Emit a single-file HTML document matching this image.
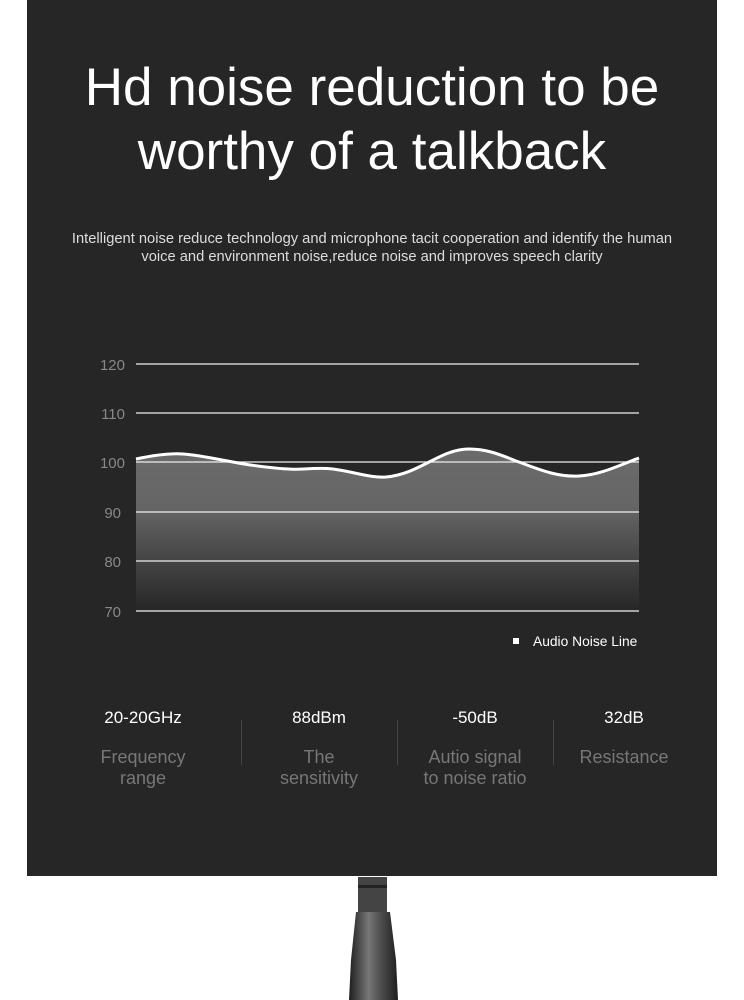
<!DOCTYPE html>
<html><head><meta charset="utf-8"><style>
body{margin:0;width:744px;height:1000px;background:#fff;position:relative;overflow:hidden;font-family:"Liberation Sans",sans-serif}
.panel{position:absolute;left:27px;top:0;width:690px;height:876px;background:#262626}
.t{position:absolute;left:0;width:744px;text-align:center;color:#fff}
.v{position:absolute;width:150px;text-align:center;color:#fff;font-size:17px;top:708px}
.l{position:absolute;width:150px;text-align:center;color:#777;font-size:18px;top:747px;line-height:21px}
.d{position:absolute;top:720px;width:1px;height:45px;background:#444}
</style></head><body>
<div class="panel"></div>
<div class="t" style="top:56px;font-size:53px;line-height:64px">Hd noise reduction to be<br>worthy of a talkback</div>
<div class="t" style="top:230px;font-size:14.7px;line-height:18px;color:#ddd">Intelligent noise reduce technology and microphone tacit cooperation and identify the human<br>voice and environment noise,reduce noise and improves speech clarity</div>
<svg style="position:absolute;left:0;top:0" width="744" height="1000">
<defs><linearGradient id="g" x1="0" y1="0" x2="0" y2="1"><stop offset="0" stop-color="#6b6b6b"/><stop offset="0.35" stop-color="#666"/><stop offset="1" stop-color="#262626"/></linearGradient>
<linearGradient id="a" x1="0" y1="0" x2="1" y2="0"><stop offset="0" stop-color="#1e1e1e"/><stop offset="0.4" stop-color="#777"/><stop offset="0.6" stop-color="#555"/><stop offset="1" stop-color="#1e1e1e"/></linearGradient></defs>
<path d="M136 459 C155 455 170 453 183 454 C200 455 220 460 244 464 C270 468 290 470 304 469 C318 468 325 468 333 469 C355 472 370 478 386 477 C420 474 440 449 469 449 C490 449 505 457 519 462 C545 472 560 477 579 476 C600 475 620 465 639 458 L639 611 L136 611 Z" fill="url(#g)"/>
<g stroke="#eee" stroke-width="1.3">
<line x1="136" y1="364" x2="639" y2="364"/><line x1="136" y1="413" x2="639" y2="413"/><line x1="136" y1="462" x2="639" y2="462"/><line x1="136" y1="512" x2="639" y2="512"/><line x1="136" y1="561" x2="639" y2="561"/><line x1="136" y1="611" x2="639" y2="611"/></g>
<path d="M136 459 C155 455 170 453 183 454 C200 455 220 460 244 464 C270 468 290 470 304 469 C318 468 325 468 333 469 C355 472 370 478 386 477 C420 474 440 449 469 449 C490 449 505 457 519 462 C545 472 560 477 579 476 C600 475 620 465 639 458" fill="none" stroke="#fff" stroke-width="3"/>
<g fill="#888" font-size="15" font-family="Liberation Sans" text-anchor="end">
<text x="125" y="370">120</text><text x="125" y="419">110</text><text x="125" y="468">100</text><text x="121" y="518">90</text><text x="121" y="567">80</text><text x="121" y="617">70</text></g>
<rect x="513" y="638" width="6" height="6" fill="#fff"/>
<text x="533" y="646" fill="#fff" font-size="13.8" font-family="Liberation Sans">Audio Noise Line</text>
<rect x="358" y="877" width="29" height="35" fill="#444"/>
<rect x="358" y="885" width="29" height="3" fill="#222"/>
<path d="M356 912 L390 912 L396 960 L398 1000 L349 1000 L351 960 Z" fill="url(#a)"/>
</svg>
<div class="v" style="left:68px">20-20GHz</div>
<div class="v" style="left:244px">88dBm</div>
<div class="v" style="left:400px">-50dB</div>
<div class="v" style="left:549px">32dB</div>
<div class="l" style="left:68px">Frequency<br>range</div>
<div class="l" style="left:244px">The<br>sensitivity</div>
<div class="l" style="left:400px">Autio signal<br>to noise ratio</div>
<div class="l" style="left:549px">Resistance</div>
<div class="d" style="left:241px"></div><div class="d" style="left:397px"></div><div class="d" style="left:553px"></div>
</body></html>
